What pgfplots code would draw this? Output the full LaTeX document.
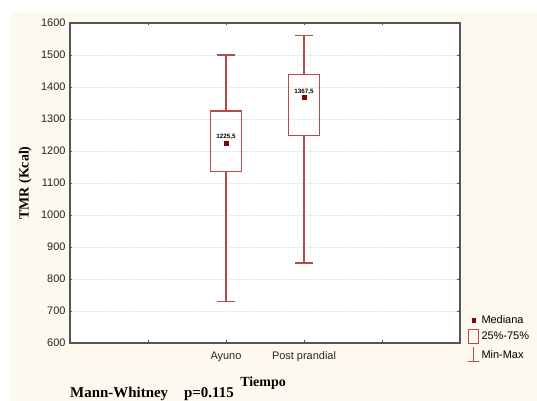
\documentclass[border=0pt]{standalone}
\usepackage{fontspec}
\setmainfont{Liberation Serif}
\setsansfont{Liberation Sans}
\usepackage{pgfplots}
\usepgfplotslibrary{statistics}
\pgfplotsset{compat=1.18}
\definecolor{cream}{HTML}{FEF9EF}
\definecolor{boxred}{HTML}{B44A4A}
\definecolor{medred}{HTML}{8B0000}
\definecolor{axgray}{HTML}{555555}
\begin{document}
\begin{tikzpicture}
\useasboundingbox (0bp,0bp) rectangle (537bp,401bp);
\fill[white] (0bp,0bp) rectangle (537bp,401bp);
\fill[cream] (10bp,0bp) rectangle (537bp,389bp);
\begin{axis}[
  at={(70bp,58bp)}, anchor=south west,
  width=390bp, height=320bp, scale only axis,
  axis background/.style={fill=white},
  xmin=0, xmax=5, ymin=600, ymax=1600,
  xtick={1,2,3,4}, xticklabels={,Ayuno,Post prandial,},
  ytick={600,700,...,1600},
  /pgf/number format/assume math mode=true,
  /pgf/number format/1000 sep={},
  ticklabel style={font=\sffamily\fontsize{11}{13}\selectfont, text=black!85},
  yticklabel style={xshift=-1bp},
  xticklabel style={yshift=-5bp},
  axis line style={draw=axgray, line width=1.2bp},
  tick style={draw=axgray, line width=0.9bp},
  major tick length=2.5bp,
  tick align=inside,
  ymajorgrids, grid style={densely dotted, gray!20, line width=0.4pt},
  xlabel={\bfseries Tiempo},
  ylabel={\bfseries TMR (Kcal)},
  label style={font=\fontsize{14}{16}\selectfont},
  xlabel style={at={(axis description cs:0.495,-0.125)}, anchor=center},
  ylabel style={at={(axis description cs:-0.115,0.5)}, anchor=center},
  legend style={at={(axis description cs:1.019,-0.06)}, anchor=south west,
    draw=none, fill=none, font=\sffamily\fontsize{11}{13}\selectfont,
    row sep=2.5bp, inner sep=0pt,
    /tikz/every even column/.append style={column sep=3bp}},
  legend cell align=left,
  boxplot/draw direction=y,
]
\addplot+[forget plot, solid, draw=boxred, line width=1.1bp, mark=none,
  boxplot prepared={lower whisker=730, lower quartile=1135, median=1225.5,
    upper quartile=1325, upper whisker=1500, draw position=2,
    box extend=0.4, whisker extend=0.22, every median/.style={draw=none}}]
  coordinates {};
\addplot+[forget plot, solid, draw=boxred, line width=1.1bp, mark=none,
  boxplot prepared={lower whisker=850, lower quartile=1248, median=1367.5,
    upper quartile=1440, upper whisker=1560, draw position=3,
    box extend=0.4, whisker extend=0.22, every median/.style={draw=none}}]
  coordinates {};
\addplot[forget plot, only marks, mark=square*, mark size=1.9bp, color=medred,
  point meta=explicit symbolic,
  nodes near coords,
  nodes near coords style={font=\sffamily\bfseries\fontsize{6.3}{7}\selectfont, text=black, anchor=south, yshift=-0.5bp}]
  table[meta=label] {
x y label
2 1225.5 1225,5
3 1367.5 1367,5
};
\addlegendimage{only marks, mark=square*, mark size=1.8bp, color=medred}
\addlegendentry{Mediana}
\addlegendimage{legend image code/.code={\draw[boxred, line width=0.9bp] (3.5bp,-7bp) rectangle (13.5bp,7bp);}}
\addlegendentry{25\%-75\%}
\addlegendimage{legend image code/.code={\draw[boxred, line width=0.9bp] (8.5bp,8bp) -- (8.5bp,-6.5bp) (3bp,-6.5bp) -- (14bp,-6.5bp);}}
\addlegendentry{Min-Max}
\end{axis}
\node[anchor=base west, inner sep=0pt, font=\bfseries\fontsize{15}{17}\selectfont] at (70bp,3.2bp) {Mann-Whitney\hspace{16bp}p=0.115};
\end{tikzpicture}
\end{document}
